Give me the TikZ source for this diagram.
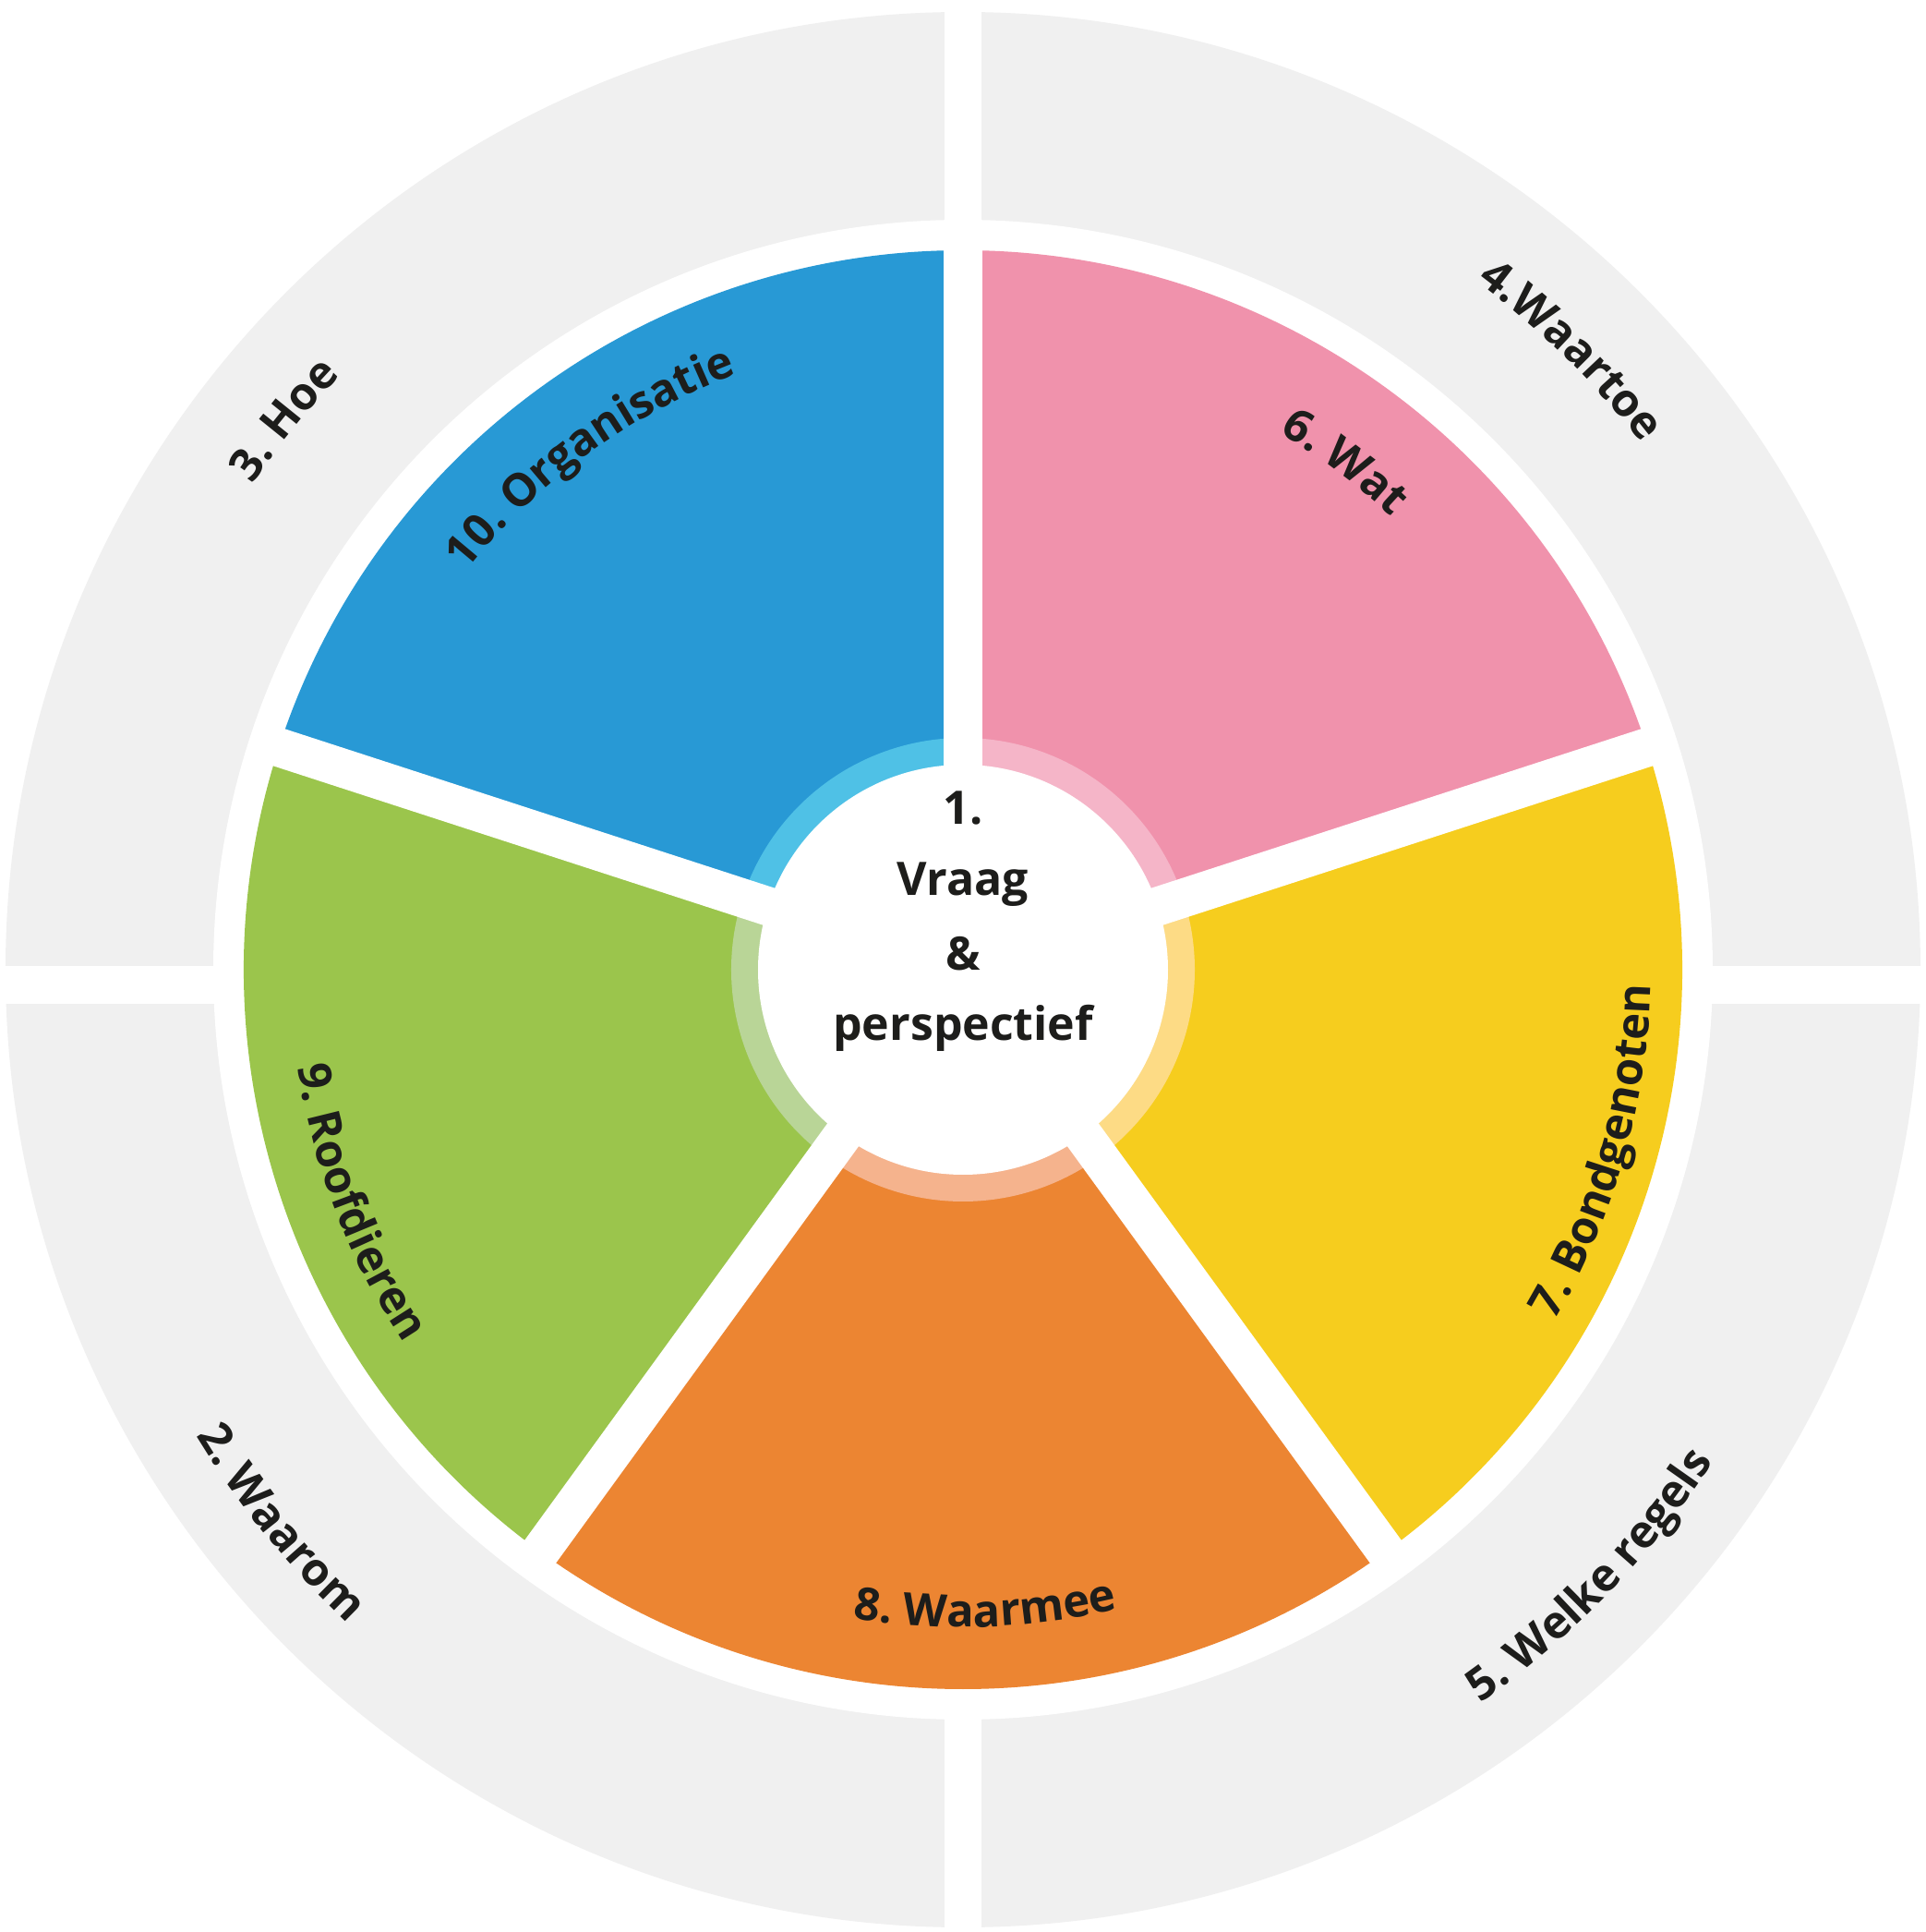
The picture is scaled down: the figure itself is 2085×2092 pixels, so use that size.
\documentclass[tikz,border=0pt]{standalone}
\usepackage{fontspec}
\setmainfont{Open Sans}
\usetikzlibrary{decorations.text}
\definecolor{cgray}{HTML}{F0F0F0}
\definecolor{cblue}{HTML}{2899D5}\definecolor{lblue}{HTML}{4FC1E6}
\definecolor{cpink}{HTML}{F092AC}\definecolor{lpink}{HTML}{F5B5C8}
\definecolor{cyel}{HTML}{F6CD1E}\definecolor{lyel}{HTML}{FDDB85}
\definecolor{corg}{HTML}{EC8532}\definecolor{lorg}{HTML}{F5B38D}
\definecolor{cgrn}{HTML}{9BC54C}\definecolor{lgrn}{HTML}{B9D597}
\definecolor{ctxt}{HTML}{1D1D1B}
\newcommand\labfont{\fontsize{49}{58}\selectfont\bfseries}
\tikzset{
  arclab/.style={decorate,decoration={text along path,text align=center,text color=ctxt,text={|\labfont|#1}}},
  gapline/.style={draw=white,line width=42pt,line cap=butt},
  ctext/.style={font=\fontsize{50}{60}\selectfont\bfseries,text=ctxt,inner sep=0pt}
}
\begin{document}
\begin{tikzpicture}[x=1pt,y=1pt]
\useasboundingbox (-1043,-1042) rectangle (1042,1050);
\fill[white] (-1043,-1042) rectangle (1042,1050);
% gray ring
\fill[cgray] (0,0) circle (1037);
\fill[white] (0,0) circle (812);
\fill[white] (-20,-1045) rectangle (20,1045);
\fill[white] (-1045,-37) rectangle (1045,4);
% sectors
\fill[cblue] (0,0) -- (90:779) arc[start angle=90,end angle=162,radius=779] -- cycle;
\fill[cgrn] (0,0) -- (162:779) arc[start angle=162,end angle=234,radius=779] -- cycle;
\fill[corg] (0,0) -- (234:779) arc[start angle=234,end angle=306,radius=779] -- cycle;
\fill[cyel] (0,0) -- (306:779) arc[start angle=306,end angle=378,radius=779] -- cycle;
\fill[cpink] (0,0) -- (18:779) arc[start angle=18,end angle=90,radius=779] -- cycle;
\fill[lblue] (0,0) -- (90:251) arc[start angle=90,end angle=162,radius=251] -- cycle;
\fill[lgrn] (0,0) -- (162:251) arc[start angle=162,end angle=234,radius=251] -- cycle;
\fill[lorg] (0,0) -- (234:251) arc[start angle=234,end angle=306,radius=251] -- cycle;
\fill[lyel] (0,0) -- (306:251) arc[start angle=306,end angle=378,radius=251] -- cycle;
\fill[lpink] (0,0) -- (18:251) arc[start angle=18,end angle=90,radius=251] -- cycle;
\coordinate (c) at (0,0);
\foreach \a in {90,162,234,306,18} \draw[gapline] (c) -- (\a:798);
\fill[white] (c) circle (222);
% center text
\node[ctext] (t1) at (0,175) {1.};
\node[ctext] (t2) at (0,92) {Vraag};
\node[ctext] (t3) at (0,17) {\&};
\node[ctext] (t4) at (0,-63) {perspectief};
% inner labels
\path[arclab={10. Organisatie}] (167:690) arc[start angle=167,end angle=85,radius=690];
\path[arclab={6. Wat}] (93:675) arc[start angle=93,end angle=13,radius=675];
\path[arclab={7. Bondgenoten}] (-59:745) arc[start angle=-59,end angle=27,radius=745];
\path[arclab={8. Waarmee}] (-130:712) arc[start angle=-130,end angle=-46,radius=712];
\path[arclab={9. Roofdieren}] (158:728) arc[start angle=158,end angle=244,radius=728];
% outer labels
\path[arclab={3. Hoe}] (171:932) arc[start angle=171,end angle=111,radius=932];
\path[arclab={4.Waartoe}] (76:930) arc[start angle=76,end angle=15,radius=930];
\path[arclab={2. Waarom}] (184:972) arc[start angle=184,end angle=254,radius=972];
\path[arclab={5. Welke regels}] (-85:972) arc[start angle=-85,end angle=-3,radius=972];
\end{tikzpicture}
\end{document}
